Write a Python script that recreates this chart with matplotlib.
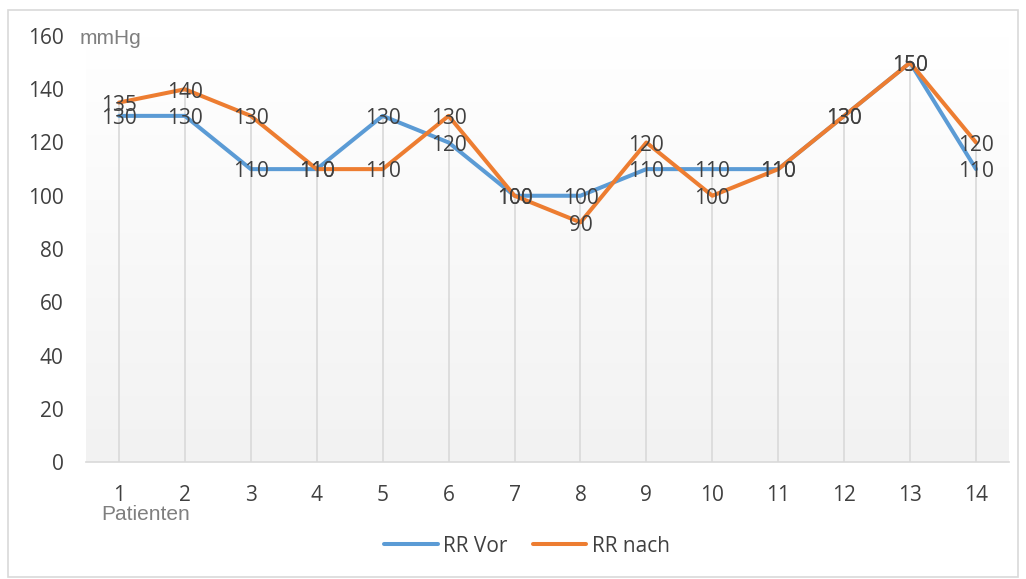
import numpy as np
import matplotlib.pyplot as plt
from matplotlib.patches import Rectangle
from matplotlib.colors import LinearSegmentedColormap

plt.rcParams['font.family'] = ['Open Sans', 'DejaVu Sans']

patients = list(range(1, 15))
rr_vor = [130, 130, 110, 110, 130, 120, 100, 100, 110, 110, 110, 130, 150, 110]
rr_nach = [135, 140, 130, 110, 110, 130, 100, 90, 120, 100, 110, 130, 150, 120]

blue = "#5b9bd5"
orange = "#ed7d31"
txt = "#404040"

fig = plt.figure(figsize=(10.26, 5.79), dpi=100)
fig.patches.append(Rectangle((8 / 1026, 1 - 577 / 579), 1010 / 1026, 567 / 579,
                             transform=fig.transFigure, fill=False,
                             edgecolor="#d9d9d9", lw=1.2))

ax = fig.add_axes([86 / 1026, 1 - 462 / 579, 923 / 1026, 426 / 579])
x = np.arange(len(patients))
ax.set_xlim(-0.5, len(patients) - 0.5)
ax.set_ylim(0, 160)

# soft vertical gradient behind the plot area
grad = np.linspace(0, 1, 256).reshape(-1, 1)
bg = LinearSegmentedColormap.from_list("bg", ["#f2f2f2", "#ffffff"])
ax.imshow(grad, extent=(-0.5, len(patients) - 0.5, 0, 160), aspect="auto",
          cmap=bg, origin="lower", zorder=0)

# drop lines from the highest point down to the axis
tops = np.maximum(rr_vor, rr_nach)
ax.vlines(x, 0, tops, color="#d9d9d9", lw=1.2, zorder=1)

ax.plot(x, rr_vor, color=blue, lw=2.9, label="RR Vor", zorder=3,
        solid_capstyle="round", solid_joinstyle="round")
ax.plot(x, rr_nach, color=orange, lw=2.9, label="RR nach", zorder=4,
        solid_capstyle="round", solid_joinstyle="round")

for xi, v in zip(x, rr_vor):
    ax.annotate(str(v), (xi, v), xytext=(0, -2), textcoords="offset points",
                ha="center", va="center", fontsize=15, color=txt, zorder=5)
for xi, v in zip(x, rr_nach):
    ax.annotate(str(v), (xi, v), xytext=(0, -2), textcoords="offset points",
                ha="center", va="center", fontsize=15, color=txt, zorder=6)

for s in ["top", "right", "left"]:
    ax.spines[s].set_visible(False)
ax.spines["bottom"].set_color("#d9d9d9")
ax.spines["bottom"].set_linewidth(1.2)
ax.spines["bottom"].set_zorder(2)

ax.set_yticks(range(0, 161, 20))
ax.set_xticks(x)
ax.set_xticklabels([str(p) for p in patients])
ax.tick_params(axis="both", length=0, labelsize=15, labelcolor=txt)
ax.tick_params(axis="y", pad=16)
ax.tick_params(axis="x", pad=16.5)

fig.text(80 / 1026, 1 - 38 / 579, "mmHg", fontsize=15, color="#7f7f7f",
         va="center", ha="left", family="Liberation Sans")
fig.text(101 / 1026, 1 - 514 / 579, "Patienten", fontsize=15, color="#7f7f7f",
         va="center", ha="left", family="Liberation Sans")

fig.legend(loc="center", bbox_to_anchor=(527 / 1026, 1 - 546 / 579), ncol=2,
           frameon=False, fontsize=15, labelcolor=txt, handlelength=2.55,
           handletextpad=0.25, columnspacing=1.25)

fig.savefig("out.png", dpi=100)
